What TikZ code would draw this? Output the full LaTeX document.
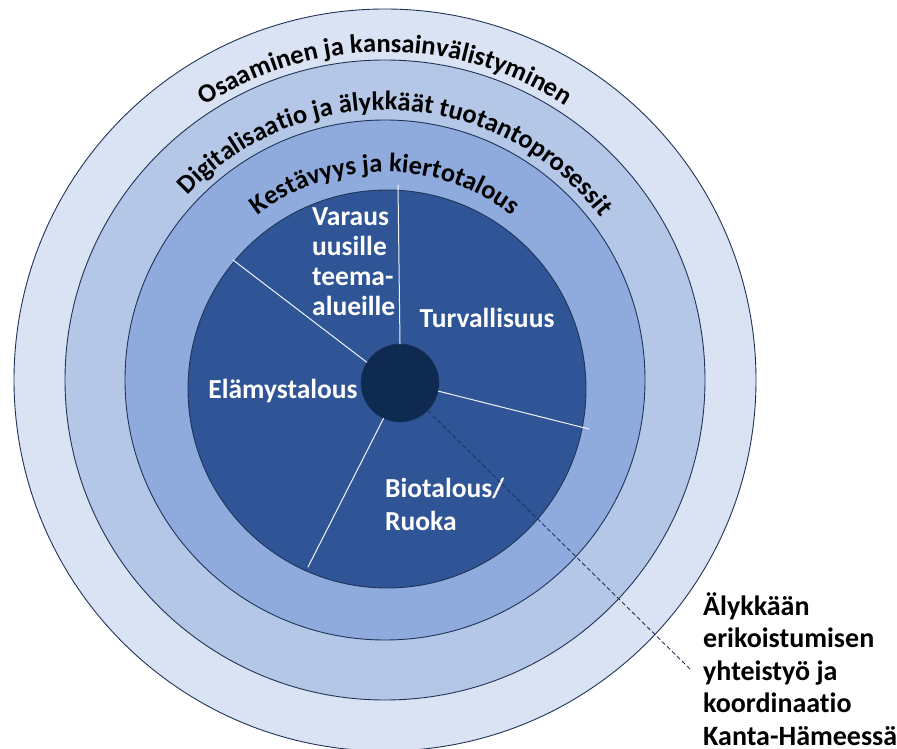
\documentclass[tikz,border=0pt]{standalone}
\usepackage{fontspec}
\setmainfont{Carlito}[Ligatures=NoCommon]
\usetikzlibrary{positioning,decorations.text}

\definecolor{ringout}{HTML}{DAE3F3}
\definecolor{ringmid}{HTML}{B4C7E7}
\definecolor{ringin}{HTML}{8FAADC}
\definecolor{coreblue}{HTML}{2F5597}
\definecolor{hubblue}{HTML}{0F2A50}
\definecolor{edgeblue}{HTML}{1F3458}

\newcommand{\arcfont}{\bfseries\fontsize{26.5}{26.5}\selectfont}

\begin{document}
\begin{tikzpicture}[x=1pt,y=1pt, line cap=round, line join=round,
  ring/.style={draw=edgeblue, line width=0.9pt},
  spoke/.style={draw=white!80!ringmid, line width=1pt},
  lbl/.style={text=white, font=\bfseries\fontsize{27.5}{30}\selectfont, align=left, inner sep=0pt},
  sidelbl/.style={text=black, font=\bfseries\fontsize{28}{32.5}\selectfont, align=left, inner sep=0pt}]
\useasboundingbox (0,0) rectangle (897,748);

% rings
\coordinate (ctr) at (385,368);
\filldraw[ring, fill=ringout] (ctr) circle (371);
\filldraw[ring, fill=ringmid] (ctr) circle (320);
\filldraw[ring, fill=ringin] (ctr) circle (260);

% core and hub
\node[circle, fill=coreblue, draw=edgeblue, line width=0.9pt, minimum size=398, inner sep=0pt] (core) at (387,359) {};
\node[circle, fill=hubblue, draw=edgeblue, minimum size=78, inner sep=0pt] (hub) at (400,365) {};

% ring texts
\path[shift={(ctr)}, decorate, decoration={text along path, text align=center,
  text={|\arcfont|Osaaminen ja kansainvälistyminen}}] (180:328) arc[start angle=180, end angle=0, radius=328];
\path[shift={(ctr)}, decorate, decoration={text along path, text align=center,
  text={|\arcfont|Digitalisaatio ja älykkäät tuotantoprosessit}}] (177:270) arc[start angle=177, end angle=-3, radius=270];
\path[shift={(ctr)}, decorate, decoration={text along path, text align=center,
  text={|\arcfont|Kestävyys ja kiertotalous}}] (180:208) arc[start angle=180, end angle=0, radius=208];

% spokes
\coordinate (s1) at (398,563);
\coordinate (s2) at (233,488);
\coordinate (s3) at (589,319);
\coordinate (s4) at (308,181);
\draw[spoke] (hub.north) -- (s1);
\draw[spoke] (hub.148) -- (s2);
\draw[spoke] (hub.-12) -- (s3);
\draw[spoke] (hub.245) -- (s4);

% sector labels
\node[lbl, anchor=west] (varaus) at (312,486) {Varaus\\uusille\\teema-\\alueille};
\node[lbl] (turva) at (487,430) {Turvallisuus};
\node[lbl] (elamys) at (283,357) {Elämystalous};
\node[lbl, anchor=west, font=\bfseries\fontsize{27.5}{33}\selectfont] (bio) at (385,244) {Biotalous/\\Ruoka};

% side label and leader
\node[sidelbl, anchor=west] (koord) at (703,79) {Älykkään\\erikoistumisen\\yhteistyö ja\\koordinaatio\\Kanta-Hämeessä};
\coordinate (lead) at (691,78);
\draw[edgeblue, line width=0.9pt, dash pattern=on 4pt off 3pt] (hub.-45) -- (lead);
\end{tikzpicture}
\end{document}
